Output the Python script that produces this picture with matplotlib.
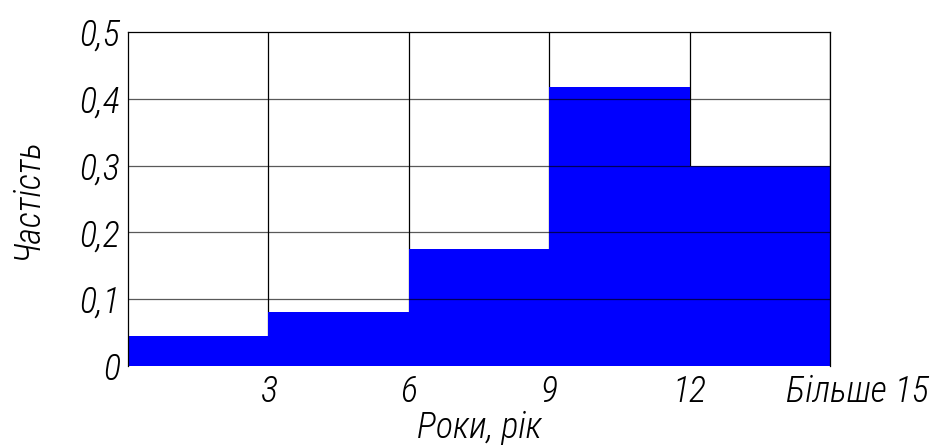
import matplotlib
matplotlib.use("Agg")
import matplotlib.pyplot as plt
import matplotlib.transforms as mtransforms

# interval edges (years) and frequency of each interval
edges = [0, 3, 6, 9, 12, 15]
freq = [0.045, 0.08, 0.175, 0.418, 0.30]
xtick_pos = [3, 6, 9, 12, 15]
xtick_lab = ["3", "6", "9", "12", "Більше 15"]
ytick_pos = [0, 0.1, 0.2, 0.3, 0.4, 0.5]
ytick_lab = ["0", "0,1", "0,2", "0,3", "0,4", "0,5"]

font = dict(family=["Roboto Condensed", "DejaVu Sans"],
            style="italic", weight="light")
fs = 26

fig = plt.figure(figsize=(9.38, 4.45), dpi=100)
ax = fig.add_axes([0.1365, 0.178, 0.7485, 0.75])

widths = [edges[i + 1] - edges[i] for i in range(len(freq))]
ax.bar(edges[:-1], freq, width=widths, align="edge", color="#0000ff",
       edgecolor="none", zorder=2)

ax.set_xlim(0, 15)
ax.set_ylim(0, 0.5)

# vertical grid lines under the bars, horizontal ones over them
ax.set_axisbelow(True)
ax.grid(axis="x", color="black", linewidth=0.9)
for y in ytick_pos[1:-1]:
    ax.axhline(y, color="black", linewidth=0.9, alpha=0.65, zorder=3)

for s in ax.spines.values():
    s.set_linewidth(0.9)
ax.spines["bottom"].set_visible(False)

ax.set_xticks(xtick_pos)
ax.set_xticklabels(xtick_lab, fontsize=fs, **font)
ax.set_yticks(ytick_pos)
ax.set_yticklabels(ytick_lab, fontsize=fs, **font)
ax.tick_params(length=0, pad=6)

# last label sits to the right of its tick
off = mtransforms.ScaledTranslation(0.27, 0, fig.dpi_scale_trans)
last = ax.get_xticklabels()[-1]
last.set_transform(last.get_transform() + off)

ax.set_xlabel("Роки, рік", fontsize=fs, labelpad=0, **font)
ax.set_ylabel("Частість", fontsize=fs, labelpad=24, **font)

fig.savefig("out.png", dpi=100)
